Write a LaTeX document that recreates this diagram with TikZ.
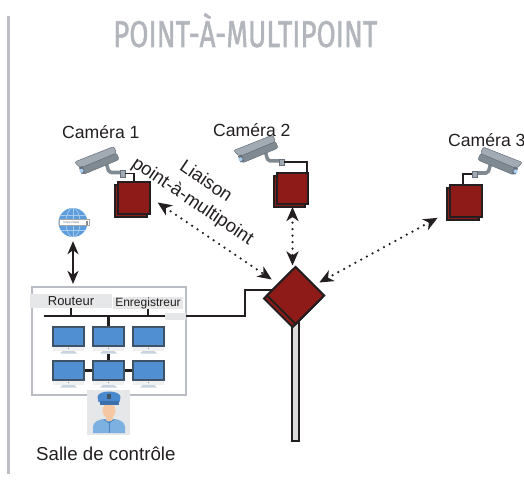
\documentclass[tikz,border=0pt]{standalone}
\usepackage{fontspec}
\setmainfont{Liberation Sans}
\newfontfamily\headfont[FakeBold=1.6]{Fira Sans}
\usetikzlibrary{arrows.meta,shadows,shapes.geometric}

\definecolor{ink}{HTML}{231F20}
\definecolor{headgray}{HTML}{B3B5BC}
\definecolor{rulegray}{HTML}{BCBEC4}
\definecolor{unitred}{HTML}{8E1B18}
\definecolor{framegray}{HTML}{BABDC3}
\definecolor{bandgray}{HTML}{E6E7E8}
\definecolor{screenblue}{HTML}{4F8FD2}
\definecolor{screenframe}{HTML}{3E5366}
\definecolor{chingray}{HTML}{EEF0F2}
\definecolor{standblue}{HTML}{C8D4DF}
\definecolor{globeblue}{HTML}{5E9DDB}
\definecolor{globeline}{HTML}{A9CBEE}
\definecolor{camlight}{HTML}{A2ABB3}
\definecolor{camdark}{HTML}{808A92}
\definecolor{camedge}{HTML}{66707A}
\definecolor{lensblue}{HTML}{A8D0F2}
\definecolor{capblue}{HTML}{4A89CE}
\definecolor{brimblue}{HTML}{3B70AC}
\definecolor{shirtblue}{HTML}{7DB1E2}
\definecolor{tieblue}{HTML}{4F86C0}
\definecolor{skin}{HTML}{F6C7A3}
\definecolor{mastfill}{HTML}{DCDCDC}

\tikzset{
  unit/.style={draw=ink, fill=unitred, line width=2pt, inner sep=0pt,
    general shadow={shadow xshift=-3pt, shadow yshift=-3pt, draw=ink, fill=unitred, line width=2pt}},
  unitbox/.style={unit, rectangle, minimum size=#1},
  link/.style={draw=ink, line width=2.5pt, dash pattern=on 0pt off 6.5pt, line cap=round,
    <->, >={Stealth[length=14pt,width=12pt,inset=4pt]}},
  solidlink/.style={draw=ink, line width=2pt, <->, >={Stealth[length=13pt,width=11pt,inset=4pt]}},
  wire/.style={draw=ink, line width=1.6pt},
  busline/.style={draw=ink, line width=2.2pt},
  label/.style={text=ink, inner sep=0pt, font=\fontsize{17.6}{20}\selectfont},
  band/.style={fill=bandgray, inner sep=0pt, text=ink},
  screen/.style={rectangle, draw=screenframe, fill=screenblue, line width=1.4pt,
    minimum width=31pt, minimum height=19pt, inner sep=0pt},
  pics/monitor/.style={code={
    \fill[chingray] (-15.5,9.5) rectangle (15.5,14.5);
    \fill[standblue] (-6,14.5) -- (6,14.5) -- (8.5,17) -- (-8.5,17) -- cycle;
    \fill[standblue!70!black] (0,12) circle (0.7);
    \node[screen] (-scr) at (0,0) {};
  }},
  pics/cctv/.style={code={
    % mounting arm
    \draw[camdark, line width=3.5pt, line join=round, rounded corners=2pt] (-16,-10) -- (-13.5,-1.5) -- (-2,-1.5);
    % housing, lower half
    \filldraw[fill=camdark, draw=camedge, line width=0.5pt, rounded corners=2pt]
      (-42,-6) -- (-6,-21) -- (-3.3,-14.5) -- (-39.3,0.5) -- cycle;
    % housing, upper half with sun hood
    \filldraw[fill=camlight, draw=camedge, line width=0.5pt, rounded corners=2pt]
      (-48,-12) -- (-8.7,-27.5) -- (-6,-21) -- (-42,-6) -- cycle;
    % lens
    \fill[camedge] (-43.5,-6.5) -- (-40,-8) -- (-37.5,-1.5) -- (-41,0) -- cycle;
    \fill[lensblue] (-41,-3.2) circle (2);
    % cable connector
    \filldraw[fill=camlight, draw=camedge, line width=0.6pt] (-2.5,-3.5) rectangle (2.5,3);
    \coordinate (-w) at (2.5,-0.5);
  }}
}

\begin{document}
\begin{tikzpicture}[x=1pt, y=-1pt]
\useasboundingbox (0,0) rectangle (524,481);

% side rule and heading
\draw[rulegray, line width=2.7pt] (8.7,16) -- (8.7,474);
\node[anchor=base west, inner sep=0pt, text=headgray] (title) at (113,47)
  {\resizebox{264pt}{34pt}{\headfont POINT-À-MULTIPOINT}};

% cameras
\pic (cam1) at (122.5,174) {cctv};
\pic (cam2) at (281.5,162.5) {cctv};
\pic[xscale=-1] (cam3) at (474.5,174.5) {cctv};

\node[label, anchor=base west] (cam1lbl) at (62,139) {Caméra 1};
\node[label, anchor=base west] (cam2lbl) at (213,137) {Caméra 2};
\node[label, anchor=base west] (cam3lbl) at (448,147) {Caméra 3};

% radio units
\node[unitbox=32pt] (cam1box) at (134,198) {};
\node[unitbox=31pt] (cam2box) at (292.5,188.5) {};
\node[unitbox=32pt] (cam3box) at (466,201) {};

\draw[wire] (cam1-w) -| (cam1box.north);
\draw[wire] (cam2-w) -| ([xshift=-2pt]cam2box.north east);
\draw[wire] (cam3-w) -| ([xshift=-3pt]cam3box.north);

% mast
\node[draw=ink, fill=mastfill, line width=1.5pt, minimum width=7pt, minimum height=119pt, inner sep=0pt]
  (mast) at (295.5,381.5) {};

% control room
\node[draw=framegray, line width=2.2pt, fill=white, minimum width=154pt, minimum height=108pt, inner sep=0pt]
  (ctrl) at (109,341) {};
\node[band, minimum width=82pt, minimum height=14pt, font=\fontsize{13}{13}\selectfont] (rband) at (71,301) {Routeur};
\node[band, minimum width=70pt, minimum height=12.5pt, font=\fontsize{12}{12}\selectfont] (eband) at (148,303) {Enregistreur};

% network line to the central unit
\coordinate (busstart) at (44,316);
\coordinate (hubin) at (272,290);
\draw[busline] (busstart) -- ++(201,0) |- (hubin);
\fill[bandgray] (165,313) rectangle (186,319.5);
\draw[busline] (rband.south) -- (rband.south |- busstart);
\draw[busline] (eband.south) -- (eband.south |- busstart);

% monitor wall
\pic (m11) at (68.5,336.5) {monitor};
\pic (m12) at (108.5,336.5) {monitor};
\pic (m13) at (148.5,336.5) {monitor};
\pic (m21) at (68.5,370.5) {monitor};
\pic (m22) at (108.5,370.5) {monitor};
\pic (m23) at (148.5,370.5) {monitor};
\draw[busline] (m12-scr.north |- busstart) -- (m12-scr.north);
\draw[busline] ([yshift=-7pt]m12-scr.south) -- (m22-scr.north);
\draw[busline] (m21-scr.east) -- (m22-scr.west);
\draw[busline] (m22-scr.east) -- (m23-scr.west);

% operator
\node[fill=bandgray, minimum width=43pt, minimum height=45pt, inner sep=0pt] (guard) at (108.7,412.5) {};
\fill[shirtblue] (93,433) -- (93,427) .. controls (93,422) and (98,420) .. (103,419) -- (115,419)
  .. controls (120,420) and (125,422) .. (125,427) -- (125,433) -- cycle;
\fill[skin] (105.5,414) rectangle (112.5,421);
\draw[tieblue, line width=1pt] (109,421) -- (109,433);
\draw[tieblue, line width=0.8pt] (104,419.5) -- (109,423) -- (114,419.5);
\fill[skin] (109,410.5) ellipse (6.5 and 7.5);
\fill[capblue] (98.5,402) -- (97.5,397) .. controls (97.5,393.5) and (103,391.5) .. (109,391.5)
  .. controls (115,391.5) and (120.5,393.5) .. (120.5,397) -- (119.5,402) -- cycle;
\fill[brimblue] (99.5,401) rectangle (118.5,404.5);
\fill[screenframe] (107,394) rectangle (111,398.5);

\node[label, anchor=base west, font=\fontsize{18.7}{20}\selectfont] (roomlbl) at (36,460) {Salle de contrôle};

% internet access
\node[circle, fill=globeblue, minimum size=29pt, inner sep=0pt] (globe) at (73,222.5) {};
\begin{scope}
  \clip (73,222.5) circle (14.5);
  \draw[globeline, line width=0.7pt] (73,222.5) ellipse (7 and 14.5);
  \draw[globeline, line width=0.7pt] (73,206) -- (73,239);
  \draw[globeline, line width=0.7pt] (57,215) -- (89,215);
  \draw[globeline, line width=0.7pt] (57,230) -- (89,230);
\end{scope}
\filldraw[fill=white, draw=black!35, line width=0.4pt] (59,219.5) rectangle (89,225.5);
\fill[black!45] (85.5,220.5) rectangle (88.3,224.5);
\node[inner sep=0pt, text=black!55, font=\fontsize{3}{3}\selectfont] (url) at (71.5,222.5) {https://www};
\draw[solidlink, shorten <=4pt, shorten >=2pt] (globe) -- (globe |- ctrl.north);

% central unit
\node[unit, diamond, aspect=1, minimum size=58pt] (hub) at (295.5,295.5) {};

% radio links
\draw[link, shorten <=8pt, shorten >=7pt] (cam1box.east) -- (hub);
\draw[link, shorten <=2pt] (cam2box.south) -- (cam2box.south |- hub.north);
\draw[link, shorten <=13pt, shorten >=5pt] (cam3box.212) -- (hub);

\node[rotate=-34, align=center, text=ink, inner sep=0pt, font=\fontsize{18.5}{23.6}\selectfont]
  (linklbl) at (199,192) {Liaison\\point-à-multipoint};
\end{tikzpicture}
\end{document}
